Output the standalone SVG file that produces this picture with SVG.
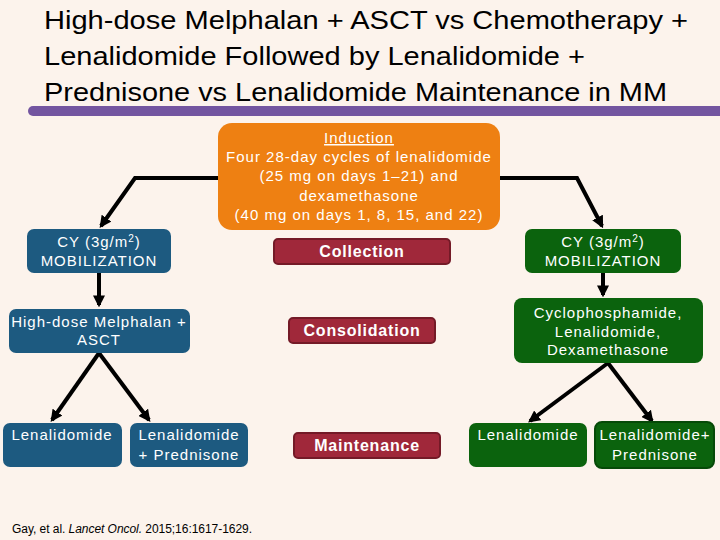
<svg xmlns="http://www.w3.org/2000/svg" width="720" height="540" viewBox="0 0 720 540">
<defs>
<style>
.bg{fill:#fcf3ec}
.title{font-family:"Liberation Sans",Arial,sans-serif;font-size:26px;fill:#000}
.t{font-family:"Liberation Sans",Arial,sans-serif;font-size:15px;letter-spacing:1px;fill:#fff;text-anchor:middle}
.tb{font-family:"Liberation Sans",Arial,sans-serif;font-size:16px;letter-spacing:0.8px;font-weight:bold;fill:#fff;text-anchor:middle}
.blue{fill:#1d5a80}
.green{fill:#0b630d}
.orange{fill:#ee8012}
.red{fill:#a0283a;stroke:#741a27;stroke-width:2}
.conn{fill:none;stroke:#000;stroke-width:4}
.foot{font-family:"Liberation Sans",Arial,sans-serif;font-size:12px;fill:#000}
</style>
<marker id="ah" viewBox="0 0 10 10" refX="8" refY="5" markerWidth="3" markerHeight="3" orient="auto" markerUnits="strokeWidth">
<path d="M0,0 L10,5 L0,10 z" fill="#000"/>
</marker>
</defs>
<rect class="bg" x="0" y="0" width="720" height="540"/>
<g id="title">
<text class="title" x="44" y="29" textLength="644" lengthAdjust="spacingAndGlyphs">High-dose Melphalan + ASCT vs Chemotherapy +</text>
<text class="title" x="44" y="65" textLength="541" lengthAdjust="spacingAndGlyphs">Lenalidomide Followed by Lenalidomide +</text>
<text class="title" x="44" y="101" textLength="623" lengthAdjust="spacingAndGlyphs">Prednisone vs Lenalidomide Maintenance in MM</text>
<rect x="28" y="106" width="700" height="10" rx="5" fill="#7355a0"/>
</g>
<g id="connectors">
<path class="conn" d="M218,178 H135 L101,226" marker-end="url(#ah)"/>
<path class="conn" d="M500,178 H577 L602,226" marker-end="url(#ah)"/>
<path class="conn" d="M99,273 V305" marker-end="url(#ah)"/>
<path class="conn" d="M99,353 L52,420" marker-end="url(#ah)"/>
<path class="conn" d="M99,353 L149,420" marker-end="url(#ah)"/>
<path class="conn" d="M603,273 V295" marker-end="url(#ah)"/>
<path class="conn" d="M608,363 L530,421" marker-end="url(#ah)"/>
<path class="conn" d="M608,363 L652,421" marker-end="url(#ah)"/>
</g>
<g id="induction">
<rect class="orange" x="218" y="123" width="282" height="107" rx="14"/>
<text class="t" x="359" y="143" text-decoration="underline">Induction</text>
<text class="t" x="359" y="162">Four 28-day cycles of lenalidomide</text>
<text class="t" x="359" y="181">(25 mg on days 1–21) and</text>
<text class="t" x="359" y="201">dexamethasone</text>
<text class="t" x="359" y="220">(40 mg on days 1, 8, 15, and 22)</text>
</g>
<g id="cy-left">
<rect class="blue" x="27" y="229" width="144" height="44" rx="7"/>
<text class="t" x="99" y="247">CY (3g/m<tspan font-size="10" dy="-5">2</tspan><tspan dy="5">)</tspan></text>
<text class="t" x="99" y="266">MOBILIZATION</text>
</g>
<g id="collection">
<rect class="red" x="274" y="239" width="176" height="25" rx="4"/>
<text class="tb" x="362" y="257">Collection</text>
</g>
<g id="cy-right">
<rect class="green" x="525" y="229" width="156" height="44" rx="7"/>
<text class="t" x="603" y="247">CY (3g/m<tspan font-size="10" dy="-5">2</tspan><tspan dy="5">)</tspan></text>
<text class="t" x="603" y="266">MOBILIZATION</text>
</g>
<g id="hdm">
<rect class="blue" x="9" y="309" width="181" height="44" rx="7"/>
<text class="t" x="99" y="327">High-dose Melphalan +</text>
<text class="t" x="99" y="345">ASCT</text>
</g>
<g id="consolidation">
<rect class="red" x="289" y="318" width="146" height="25" rx="4"/>
<text class="tb" x="362" y="336">Consolidation</text>
</g>
<g id="cyclo">
<rect class="green" x="514" y="298" width="189" height="65" rx="8"/>
<text class="t" x="608" y="318">Cyclophosphamide,</text>
<text class="t" x="608" y="337">Lenalidomide,</text>
<text class="t" x="608" y="355">Dexamethasone</text>
</g>
<g id="len-left">
<rect class="blue" x="3" y="423" width="119" height="44" rx="7"/>
<text class="t" x="62" y="440">Lenalidomide</text>
</g>
<g id="lenpred-left">
<rect class="blue" x="130" y="423" width="118" height="44" rx="7"/>
<text class="t" x="189" y="440">Lenalidomide</text>
<text class="t" x="189" y="460">+ Prednisone</text>
</g>
<g id="maintenance">
<rect class="red" x="294" y="433" width="146" height="25" rx="4"/>
<text class="tb" x="367" y="451">Maintenance</text>
</g>
<g id="len-right">
<rect class="green" x="469" y="423" width="118" height="44" rx="7"/>
<text class="t" x="528" y="440">Lenalidomide</text>
</g>
<g id="lenpred-right">
<rect class="green" x="595" y="422" width="119" height="46" rx="7" stroke="#064a08" stroke-width="2"/>
<text class="t" x="655" y="440">Lenalidomide+</text>
<text class="t" x="655" y="460">Prednisone</text>
</g>
<g id="footer">
<text class="foot" x="12" y="533" textLength="240">Gay, et al. <tspan font-style="italic">Lancet Oncol.</tspan> 2015;16:1617-1629.</text>
</g>
</svg>
